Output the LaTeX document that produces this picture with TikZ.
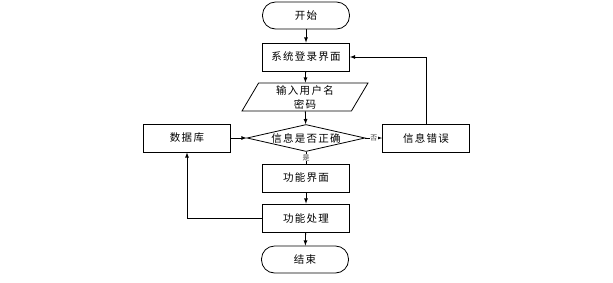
\documentclass[tikz,border=0pt]{standalone}
\usepackage{fontspec}
\newfontfamily\cjk[LetterSpace=12]{Noto Sans CJK SC}
\usetikzlibrary{shapes.geometric}

\begin{document}
\begin{tikzpicture}[x=1pt,y=-1pt,line width=0.8pt,
  every node/.style={font=\cjk\fontsize{10.5}{14}\selectfont},
  box/.style={draw,minimum width=87pt,minimum height=28pt,inner sep=0pt},
  term/.style={box,rounded corners=13pt,minimum height=27pt},
  io/.style={draw,trapezium,trapezium left angle=55,trapezium right angle=125,
    trapezium stretches body,minimum width=126pt,minimum height=28pt,inner sep=0pt,align=center},
  decision/.style={draw,diamond,minimum width=118pt,minimum height=27pt,inner sep=0pt},
  tag/.style={font=\cjk\fontsize{7}{7}\selectfont,text=black!75,inner sep=0.5pt,fill=white}]
\useasboundingbox (0,0) rectangle (613,282);
% main column
\node[term] (start) at (306,15.5) {开始};
\node[box] (login) at (306,57) {系统登录界面};
\node[io] (input) at (305,97) {输入用户名\\密码};
\node[decision] (check) at (306,138) {\makebox[0pt]{信息是否正确}};
\node[box] (funcui) at (306,178) {功能界面};
\node[box] (proc) at (306,218) {功能处理};
\node[term] (finish) at (305,259.5) {结束};
% side boxes
\node[box] (db) at (187,138) {数据库};
\node[box] (wrong) at (426,138) {信息错误};
\draw[-latex] (start) -- (login);
\draw[-latex] (login) -- (input);
\draw[-latex] (input) -- (check);
\draw[-latex] (db) -- (check.west);
\draw[-latex] (check.east) -- node[tag] {否} (wrong);
\draw (check.south) -- node[tag] {是} (funcui);
\draw[-latex] (funcui) -- (proc);
\draw[-latex] (proc) -- (finish);
\draw[-latex] (wrong.north) |- (login.east);
\draw[-latex] (proc.west) -| (db.south);
\end{tikzpicture}
\end{document}
